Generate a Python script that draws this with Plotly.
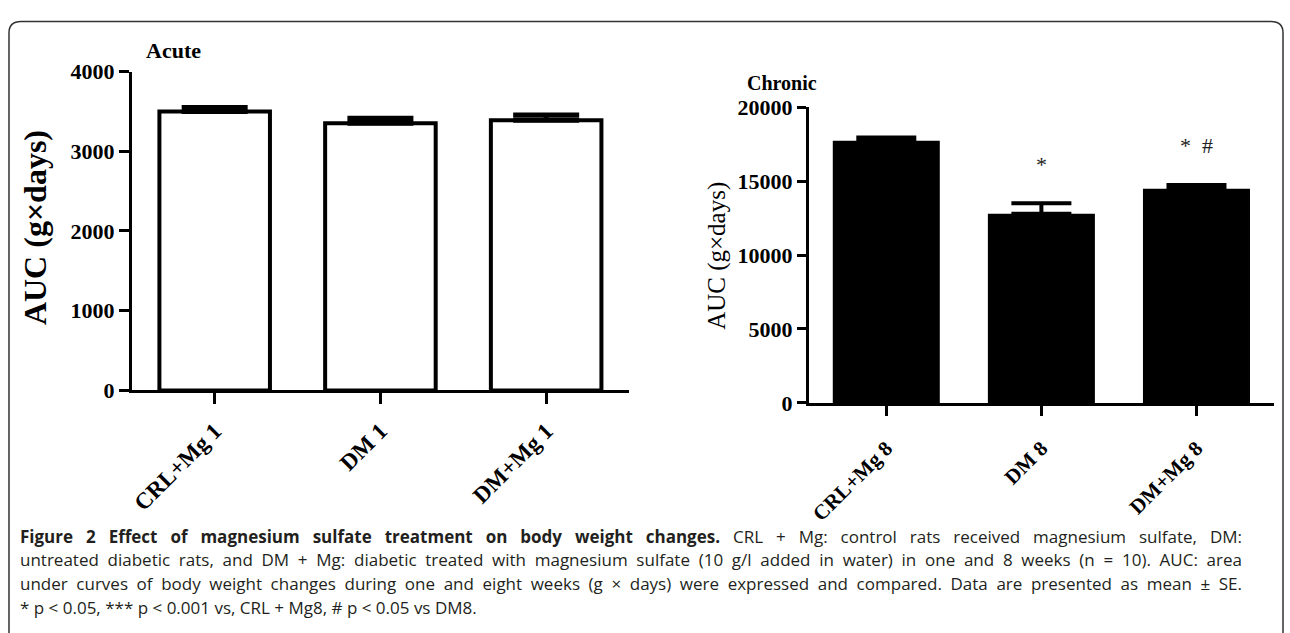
import plotly.graph_objects as go

W, H = 1290, 633

# ---------------- data ----------------
acute_groups = ["CRL+Mg 1", "DM 1", "DM+Mg 1"]
acute_auc = [3500, 3350, 3390]
acute_se = [50, 65, 65]

chronic_groups = ["CRL+Mg 8", "DM 8", "DM+Mg 8"]
chronic_auc = [17720, 12790, 14480]
chronic_se = [220, 710, 260]
chronic_marks = ["", "*", "*  #"]

acute_yticks = [0, 1000, 2000, 3000, 4000]
chronic_yticks = [0, 5000, 10000, 15000, 20000]

caption_lines = [
    "<b>Figure 2 Effect of magnesium sulfate treatment on body weight changes.</b> CRL + Mg: control rats received magnesium sulfate, DM:",
    "untreated diabetic rats, and DM + Mg: diabetic treated with magnesium sulfate (10 g/l added in water) in one and 8 weeks (n = 10). AUC: area",
    "under curves of body weight changes during one and eight weeks (g × days) were expressed and compared. Data are presented as mean ± SE.",
    "* p < 0.05, *** p < 0.001 vs, CRL + Mg8, # p < 0.05 vs DM8.",
]


def px_x(p):
    return p / W


def px_y(p):
    return 1 - p / H


SERIF = "Liberation Serif"
fig = go.Figure()

fig.add_trace(go.Bar(
    x=acute_groups, y=acute_auc, xaxis="x", yaxis="y", width=0.667,
    marker=dict(color="white", line=dict(color="black", width=4)),
    error_y=dict(type="data", symmetric=False, array=acute_se,
                 arrayminus=[0] * len(acute_se), width=33, thickness=5, color="black"),
    showlegend=False,
))

fig.add_trace(go.Bar(
    x=chronic_groups, y=chronic_auc, xaxis="x2", yaxis="y2", width=0.69,
    marker=dict(color="black", line=dict(color="black", width=0)),
    error_y=dict(type="data", symmetric=False, array=chronic_se,
                 arrayminus=[0] * len(chronic_se), width=30, thickness=4, color="black"),
    showlegend=False,
))

axis_common = dict(showgrid=False, zeroline=False, showline=True, linecolor="black",
                   ticks="outside", tickcolor="black")

fig.update_layout(
    width=W, height=H,
    margin=dict(l=0, r=0, t=0, b=0),
    paper_bgcolor="white", plot_bgcolor="rgba(0,0,0,0)",
    xaxis=dict(**axis_common, domain=[px_x(130), px_x(628)], anchor="y",
               type="category", range=[-0.5, 2.5], linewidth=3, tickwidth=3, ticklen=11,
               tickangle=-45, ticklabelstandoff=4,
               tickfont=dict(family=SERIF, size=23, color="black", weight="bold")),
    yaxis=dict(**axis_common, domain=[px_y(394), px_y(62)], anchor="x",
               range=[0, 4000], tickvals=acute_yticks, ticktext=[str(v) for v in acute_yticks],
               linewidth=3, tickwidth=3, ticklen=10,
               tickfont=dict(family=SERIF, size=22, color="black", weight="bold")),
    xaxis2=dict(**axis_common, domain=[px_x(808), px_x(1274)], anchor="y2",
                type="category", range=[-0.5, 2.5], linewidth=2.5, tickwidth=2.5, ticklen=10,
                tickangle=-45, ticklabelstandoff=12,
                tickfont=dict(family=SERIF, size=21, color="black", weight="bold")),
    yaxis2=dict(**axis_common, domain=[px_y(407), px_y(99)], anchor="x2",
                range=[0, 20000], tickvals=chronic_yticks,
                ticktext=[str(v) for v in chronic_yticks],
                linewidth=2.5, tickwidth=2.5, ticklen=9,
                tickfont=dict(family=SERIF, size=22, color="black", weight="bold")),
)

ann = []
ann.append(dict(text="<b>Acute</b>", xref="paper", yref="paper", x=px_x(142), y=px_y(40),
                xanchor="left", yanchor="middle", showarrow=False,
                font=dict(family=SERIF, size=22, color="black")))
ann.append(dict(text="<b>Chronic</b>", xref="paper", yref="paper", x=px_x(744), y=px_y(74),
                xanchor="left", yanchor="middle", showarrow=False,
                font=dict(family=SERIF, size=20, color="black")))
ann.append(dict(text="<b>AUC (g×days)</b>", xref="paper", yref="paper", x=px_x(33), y=px_y(224),
                xanchor="center", yanchor="middle", textangle=-90, showarrow=False,
                font=dict(family=SERIF, size=32, color="black")))
ann.append(dict(text="AUC (g×days)", xref="paper", yref="paper", x=px_x(716), y=px_y(254),
                xanchor="center", yanchor="middle", textangle=-90, showarrow=False,
                font=dict(family=SERIF, size=25, color="black")))

for g, v, s, m in zip(chronic_groups, chronic_auc, chronic_se, chronic_marks):
    if m:
        ann.append(dict(text=m, xref="x2", yref="y2", x=g, y=v + s, xanchor="center",
                        yanchor="middle", yshift=39, showarrow=False,
                        font=dict(family=SERIF, size=22, color="#222")))

for i, line in enumerate(caption_lines):
    ann.append(dict(text=line, xref="paper", yref="paper", x=px_x(16), y=px_y(546 + i * 24.5),
                    xanchor="left", yanchor="middle", showarrow=False, align="left",
                    font=dict(family="Open Sans", size=17, color="#231f20")))

fig.update_layout(annotations=ann)

# rounded frame around the figure (open at the bottom)
L, T, R, B, r = 7, 10, 1283, 650, 12
path = (f"M {px_x(L)},{px_y(B)} L {px_x(L)},{px_y(T + r)} "
        f"Q {px_x(L)},{px_y(T)} {px_x(L + r)},{px_y(T)} "
        f"L {px_x(R - r)},{px_y(T)} "
        f"Q {px_x(R)},{px_y(T)} {px_x(R)},{px_y(T + r)} "
        f"L {px_x(R)},{px_y(B)}")
fig.add_shape(type="path", xref="paper", yref="paper", path=path,
              line=dict(color="#333", width=1.5))

# remove default page margin and justify the first three caption lines
post = """
document.body.style.margin = '0';
var gd = document.getElementById('{plot_id}');
var target = 1222;
gd.querySelectorAll('.annotation-text').forEach(function(t) {
  var s = t.textContent;
  if (s.length > 110) {
    var w = t.getComputedTextLength();
    var n = (s.match(/ /g) || []).length;
    if (n > 0 && w < target) {
      t.style.wordSpacing = ((target - w) / n) + 'px';
    }
  }
});
"""

fig.write_html("out.html", post_script=post, config={"displayModeBar": False})
